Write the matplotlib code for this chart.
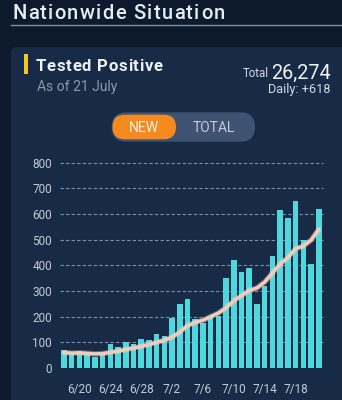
import matplotlib
matplotlib.use("Agg")
import matplotlib.pyplot as plt
from matplotlib.patches import FancyBboxPatch, Rectangle
import numpy as np

# daily new positives, 6/18 .. 7/21
dates = ['6/18', '6/19', '6/20', '6/21', '6/22', '6/23', '6/24', '6/25', '6/26',
         '6/27', '6/28', '6/29', '6/30', '7/1', '7/2', '7/3', '7/4', '7/5',
         '7/6', '7/7', '7/8', '7/9', '7/10', '7/11', '7/12', '7/13', '7/14',
         '7/15', '7/16', '7/17', '7/18', '7/19', '7/20', '7/21']
new_cases = [70, 54, 66, 54, 41, 52, 92, 80, 102, 92, 112, 109, 132, 126, 195,
             250, 268, 190, 174, 202, 204, 351, 420, 373, 391, 248, 319, 438,
             616, 586, 651, 499, 405, 618]
# 7-day average line
avg7 = [60, 58, 59, 57, 55, 56, 61, 66, 72, 78, 84, 92, 100, 108, 120, 140,
        165, 178, 186, 200, 214, 235, 262, 282, 302, 312, 335, 370, 405, 430,
        465, 475, 498, 540]
x_ticks = ['6/20', '6/24', '6/28', '7/2', '7/6', '7/10', '7/14', '7/18']
y_ticks = [0, 100, 200, 300, 400, 500, 600, 700, 800]

W, H = 342, 400
BG = '#0d1a2d'
CARD = '#172a46'

fig = plt.figure(figsize=(W / 100, H / 100), dpi=100)
fig.patch.set_facecolor(BG)
renderer = fig.canvas.get_renderer()

# full-figure axes in pixel units for the card, header and toggle
ui = fig.add_axes([0, 0, 1, 1])
ui.set_xlim(0, W)
ui.set_ylim(H, 0)
ui.axis('off')


def spaced_text(x, y, s, spacing, **kw):
    # letter-spaced text: place each char after the measured prefix width
    for i, ch in enumerate(s):
        if ch == ' ':
            continue
        off = 0.0
        if i:
            probe = ui.text(0, 0, s[:i] + '|', **kw)
            bar = ui.text(0, 0, '|', **kw)
            off = (probe.get_window_extent(renderer).width
                   - bar.get_window_extent(renderer).width)
            probe.remove()
            bar.remove()
        ui.text(x + off + i * spacing, y, ch, **kw)


spaced_text(12, 19, 'Nationwide Situation', 1.3, fontsize=14.5, fontweight='medium',
            family='Roboto', color='#e6ecf3', va='baseline', ha='left')
ui.plot([11, W], [25, 25], color='#7f91a9', lw=1)

card = FancyBboxPatch((11, 47.3), 340, 360, boxstyle='round,pad=0,rounding_size=5',
                      facecolor=CARD, edgecolor='none')
ui.add_patch(card)

ui.add_patch(Rectangle((24, 54), 3.6, 20, facecolor='#f2c81a', edgecolor='none'))
spaced_text(35.5, 71, 'Tested Positive', 0.75, fontsize=12, fontweight='bold',
            family='Roboto', color='#eef2f7', va='baseline')
ui.text(37, 91.5, 'As of 21 July', fontsize=10, family='Roboto', color='#8d98a9',
        va='baseline')

ui.text(269, 77, 'Total', fontsize=8.3, family='Roboto', color='#d3d9e1',
        ha='right', va='baseline')
ui.text(331, 79, '26,274', fontsize=14.3, family='Roboto', color='#f2f5f9',
        ha='right', va='baseline')
ui.text(330, 92.5, 'Daily: +618', fontsize=9.2, family='Roboto', color='#d3d9e1',
        ha='right', va='baseline')

# NEW / TOTAL toggle
ui.add_patch(FancyBboxPatch((111.7, 112.3), 143.3, 29.4,
                            boxstyle='round,pad=0,rounding_size=14.7',
                            facecolor='#3e5372', edgecolor='none'))
ui.add_patch(FancyBboxPatch((112.5, 114.7), 63.5, 24.6,
                            boxstyle='round,pad=0,rounding_size=12.3',
                            facecolor='#f68a1e', edgecolor='none'))
ui.text(144, 127.5, 'NEW', fontsize=10, family='Roboto', color='#fdf3e8',
        ha='center', va='center')
ui.text(213.5, 127.5, 'TOTAL', fontsize=10, family='Roboto', color='#c3ccd8',
        ha='center', va='center')

# chart
left, right, top, bottom = 60.1, 322.6, 162.7, 368.0
ax = fig.add_axes([left / W, 1 - bottom / H, (right - left) / W, (bottom - top) / H])
ax.set_facecolor('none')

x = np.arange(len(dates))
ax.bar(x, new_cases, width=0.72, color='#4fd7de', zorder=2)
ax.plot(x, avg7, color='#f6d9cc', lw=4.0, alpha=0.35, solid_capstyle='round', zorder=3)
ax.plot(x, avg7, color='#f2cbbb', lw=2.5, solid_capstyle='round', zorder=4)

ax.set_xlim(-0.5, len(dates) - 0.5)
ax.set_ylim(0, 800)
ax.set_yticks(y_ticks)
ax.set_xticks([dates.index(d) for d in x_ticks])
ax.set_xticklabels(x_ticks)
for yv in y_ticks[1:]:
    ax.axhline(yv, color='#7d8fa8', lw=0.8, ls=(0, (3, 2)), zorder=1, clip_on=False)
ax.axhline(0, color='#5f7390', lw=0.8, zorder=1)

for s in ax.spines.values():
    s.set_visible(False)
ax.tick_params(axis='both', length=0, colors='#c5cbd5', labelsize=8.5)
ax.tick_params(axis='y', pad=5.8)
ax.tick_params(axis='x', pad=11)
for lbl in ax.get_xticklabels() + ax.get_yticklabels():
    lbl.set_family('Roboto')

fig.savefig('out.png', dpi=100, facecolor=fig.get_facecolor())
